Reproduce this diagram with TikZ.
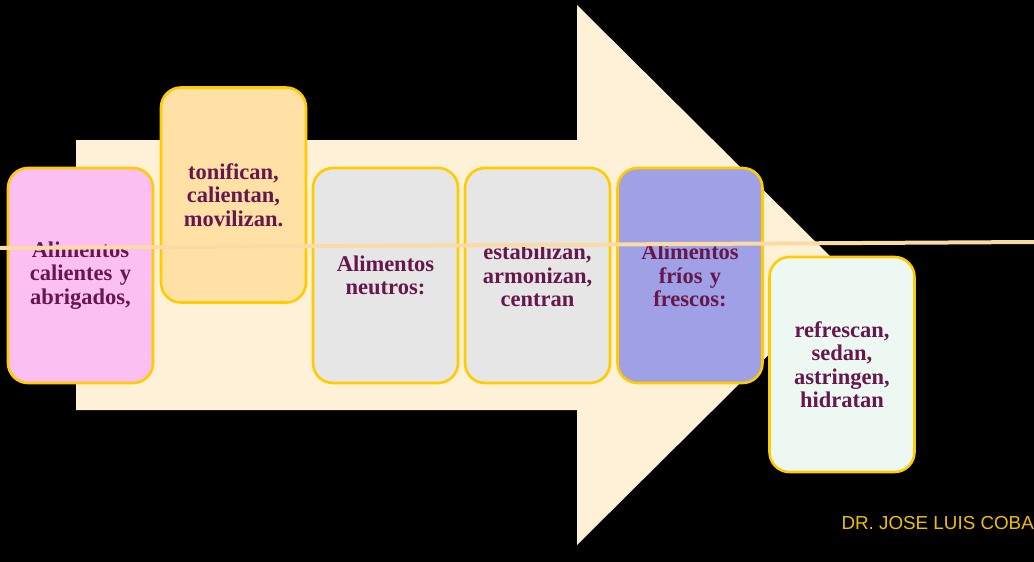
\documentclass[tikz,border=0pt]{standalone}
\usepackage{fontspec}
\setmainfont{Liberation Serif}
\setsansfont{Liberation Sans}
\begin{document}
\begin{tikzpicture}[x=1pt,y=-1pt,
  card/.style={draw=cardedge,line width=2.6pt,rounded corners=20pt,
    minimum width=145pt,minimum height=215pt,inner sep=0pt},
  cardtext/.style={text=wine,font=\fontsize{22.5}{23.5}\selectfont\bfseries,
    align=center,text width=140pt},
  rule/.style={draw=rulecol,line width=4pt}]
\definecolor{cardedge}{HTML}{FFCC00}
\definecolor{arrowfill}{HTML}{FFF0D8}
\definecolor{wine}{HTML}{66184C}
\definecolor{rulecol}{HTML}{FADBA6}
\definecolor{pinkfill}{HTML}{FCBFF2}
\definecolor{orangefill}{HTML}{FFE1A6}
\definecolor{grayfill}{HTML}{E6E6E6}
\definecolor{bluefill}{HTML}{A0A0E6}
\definecolor{mintfill}{HTML}{EEF8F3}
\definecolor{signcol}{HTML}{F0C000}

% black background and page size
\fill[black] (0,0) rectangle (1034,562);
\useasboundingbox (0,0) rectangle (1034,562);

% large block arrow
\fill[arrowfill] (76,140) -- (577,140) -- (577,5) -- (849,275)
  -- (577,545) -- (577,410) -- (76,410) -- cycle;

% cards
\node[card,fill=pinkfill]   (c1) at (80.5,275.5) {};
\node[card,fill=orangefill] (c2) at (233.5,195)  {};
\node[card,fill=grayfill]   (c3) at (385.5,275.5) {};
\node[card,fill=grayfill]   (c4) at (537.5,275.5) {};
\node[card,fill=bluefill]   (c5) at (690,275.5)  {};
\node[card,fill=mintfill]   (c6) at (842,364.5)  {};

% card texts
\node[cardtext] (t1) at (c1) {Alimentos\\calientes y\\abrigados,};
\node[cardtext] (t2) at (c2) {tonifican,\\calientan,\\movilizan.};
\node[cardtext] (t3) at (c3) {Alimentos\\neutros:};
\node[cardtext] (t4) at (c4) {estabilizan,\\armonizan,\\centran};
\node[cardtext] (t5) at (c5) {Alimentos\\fríos y\\frescos:};
\node[cardtext] (t6) at (c6) {refrescan,\\sedan,\\astringen,\\hidratan};

% thin rule across the page
\coordinate (rl) at (0,248);
\coordinate (rr) at (1034,242);
\draw[rule] (rl) -- (rr);

% signature at the lower right edge
\node[anchor=east,inner sep=0pt,text=signcol,
  font=\sffamily\fontsize{18.8}{20}\selectfont]
  (sig) at (1034,523) {DR. JOSE LUIS COBA};
\end{tikzpicture}
\end{document}
